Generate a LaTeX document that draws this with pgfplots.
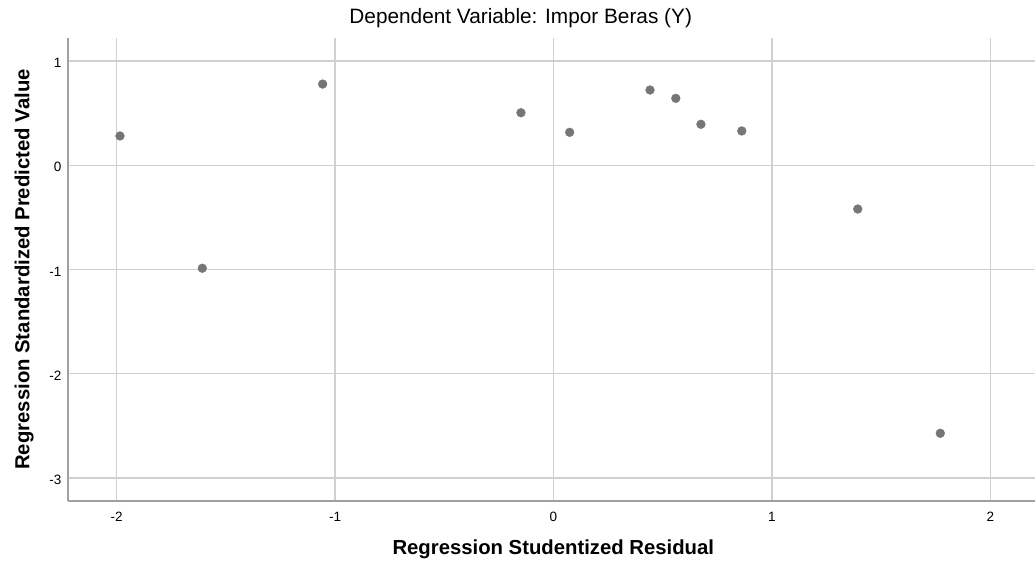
\documentclass[border=0pt]{standalone}
\usepackage{fontspec}
\setmainfont{Liberation Sans}
\usepackage{pgfplots}
\pgfplotsset{compat=1.18}

\definecolor{dotgray}{RGB}{118,118,118}
\definecolor{gridgray}{RGB}{208,208,208}
\definecolor{axisgray}{RGB}{160,160,160}

\begin{document}
\begin{tikzpicture}
\begin{axis}[
  name=ax,
  scale only axis,
  width=966.7pt, height=462.4pt,
  xmin=-2.2216, xmax=2.2047,
  ymin=-3.218, ymax=1.218,
  axis x line*=bottom, axis y line*=left,
  axis line style={axisgray, line width=1.8pt, -},
  xtick={-2,-1,0,1,2}, xticklabels={-2,-1,0,1,2},
  ytick={-3,-2,-1,0,1}, yticklabels={-3,-2,-1,0,1},
  major tick length=0pt,
  grid=major,
  major grid style={gridgray, line width=1.3pt},
  xticklabel style={font=\fontsize{13.5}{14}\selectfont, anchor=center, inner sep=0pt, yshift=-16pt},
  yticklabel style={font=\fontsize{13.5}{14}\selectfont, anchor=east, inner sep=0pt, xshift=-6.6pt, yshift=-2pt},
  title={Dependent Variable: Impor Beras (Y)},
  title style={font=\fontsize{20.8}{22}\selectfont, at={(axis description cs:0.468,1.018)}, anchor=base, inner sep=0pt, yshift=0pt},
  xlabel={Regression Studentized Residual},
  xlabel style={font=\bfseries\fontsize{20.3}{22}\selectfont, at={(axis description cs:0.5017,-0.1174)}, anchor=base, inner sep=0pt},
  ylabel={Regression Standardized Predicted Value},
  ylabel style={font=\bfseries\fontsize{20.3}{22}\selectfont, at={(axis description cs:-0.04034,0.5)}, anchor=base, inner sep=0pt},
]
  % studentized residual vs standardized predicted value
  \addplot[dotgray, only marks, mark=*, mark size=4.4pt,
    mark options={fill=dotgray, draw=dotgray}] coordinates {
    (-1.985, 0.281) (-1.608,-0.988) (-1.057, 0.779)
    (-0.149, 0.504) ( 0.074, 0.316) ( 0.442, 0.722)
    ( 0.560, 0.642) ( 0.675, 0.393) ( 0.862, 0.329)
    ( 1.393,-0.420) ( 1.771,-2.571)
  };
\end{axis}
\pgfresetboundingbox
\path[use as bounding box] ([shift={(-68.3pt,-66.3pt)}]ax.south west) rectangle ([shift={(0pt,38.3pt)}]ax.north east);
\end{tikzpicture}
\end{document}
